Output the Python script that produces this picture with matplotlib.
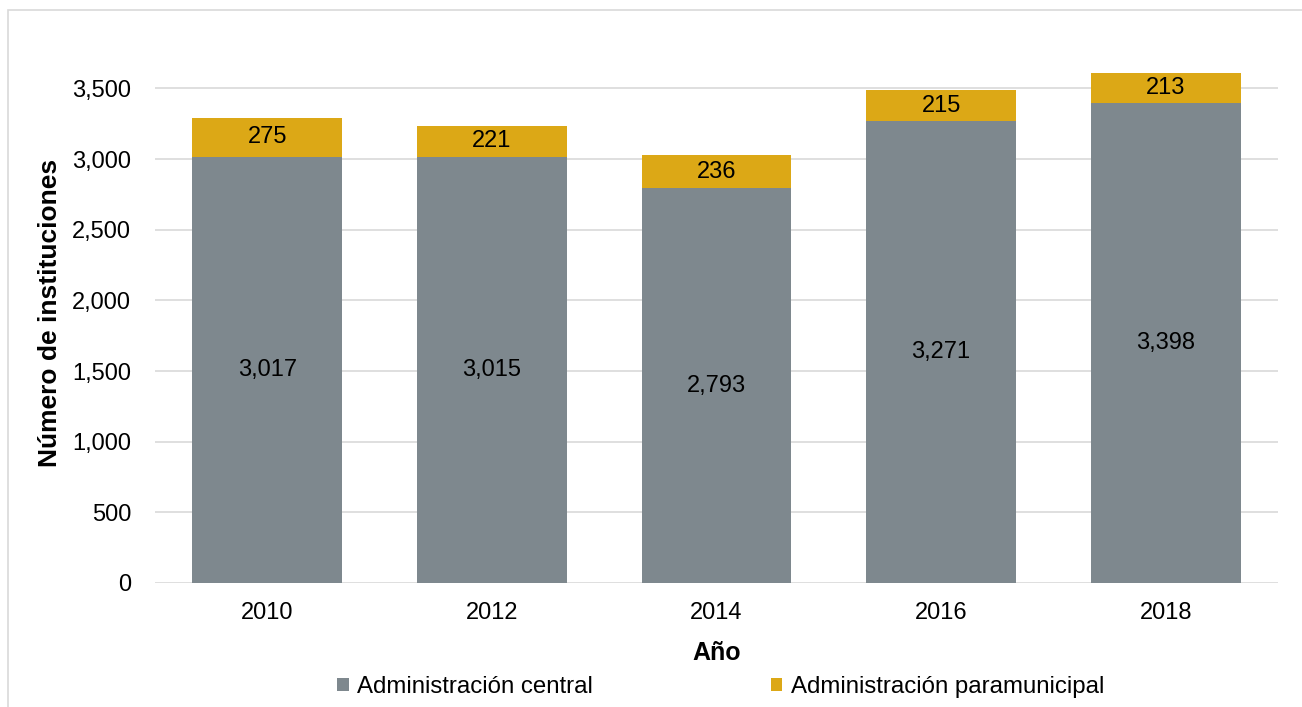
import matplotlib
matplotlib.use("Agg")
import numpy as np
import matplotlib.pyplot as plt
from matplotlib.patches import Rectangle

plt.rcParams['font.family'] = ['Liberation Sans', 'DejaVu Sans']

years = ['2010', '2012', '2014', '2016', '2018']
central = [3017, 3015, 2793, 3271, 3398]
paramunicipal = [275, 221, 236, 215, 213]
yticks = [0, 500, 1000, 1500, 2000, 2500, 3000, 3500]

c_gray = '#7E888E'
c_gold = '#DCA816'

fig = plt.figure(figsize=(13.02, 7.07), dpi=100)
ax = fig.add_axes([0.119, 0.1754, 0.8626, 0.7396])

x = np.arange(len(years))
b1 = ax.bar(x, central, width=0.667, color=c_gray, label='Administración central', zorder=3)
b2 = ax.bar(x, paramunicipal, width=0.667, bottom=central, color=c_gold,
            label='Administración paramunicipal', zorder=3)

for i in range(len(years)):
    ax.text(x[i], central[i] / 2, f'{central[i]:,}', ha='center', va='center',
            fontsize=17, color='black', zorder=4)
    ax.text(x[i], central[i] + paramunicipal[i] / 2, f'{paramunicipal[i]:,}',
            ha='center', va='center', fontsize=17, color='black', zorder=4)

ax.set_xlim(-0.5, 4.5)
ax.set_ylim(0, 3700)
ax.set_yticks(yticks)
ax.set_yticklabels([f'{v:,}' for v in yticks])
ax.set_xticks(x)
ax.set_xticklabels(years)
ax.tick_params(axis='both', length=0, labelsize=17)
ax.tick_params(axis='x', pad=14)
ax.tick_params(axis='y', pad=17)
for s in ax.spines.values():
    s.set_visible(False)
ax.yaxis.grid(True, color='#D9D9D9', linewidth=1.2, zorder=0)
ax.set_axisbelow(True)

ax.set_xlabel('Año', fontsize=18, fontweight='bold', labelpad=12)
ax.set_ylabel('Número de instituciones', fontsize=19, fontweight='bold')
ax.yaxis.set_label_coords(-0.0828, 0.516)

fig.legend(handles=[b1, b2], loc='center', bbox_to_anchor=(0.5534, 0.028), ncol=2,
           frameon=False, fontsize=17.3, handlelength=0.48, handleheight=0.48,
           handletextpad=0.35, columnspacing=7.4, borderpad=0.1)

# outer chart border
fig.patches.append(Rectangle((8 / 1302, -0.05), 1.1, 1 - 10 / 707 + 0.05,
                             transform=fig.transFigure, fill=False,
                             edgecolor='#D9D9D9', linewidth=1.2))

fig.savefig('out.png', dpi=100)
